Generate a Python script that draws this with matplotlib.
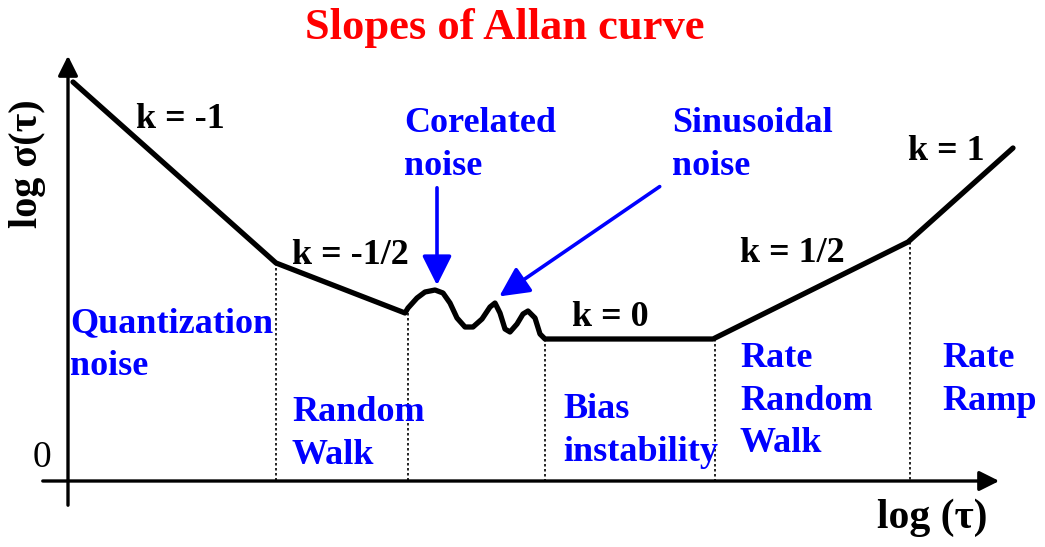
import matplotlib.pyplot as plt

plt.rcParams['font.family'] = ['Liberation Serif', 'DejaVu Serif']
plt.rcParams['font.weight'] = 'bold'

# Allan deviation sketch, in drawing units (x right, y down)
curve_x = [73, 276, 405, 408, 417, 425, 435, 443, 450, 457, 465, 473, 482, 490, 495,
           500, 505, 510, 517, 523, 528, 535, 540, 545, 713, 908, 1013]
curve_y = [82, 263, 313, 308, 298, 292, 290, 293, 303, 318, 327, 327, 319, 307, 303,
           313, 329, 332, 324, 314, 311, 318, 334, 339, 339, 242, 148]

# region borders: x position and top of the dotted line
border_x = [276, 408, 545, 715, 910]
border_top = [263, 313, 339, 339, 242]

slope_labels = ['k = -1', 'k = -1/2', 'k = 0', 'k = 1/2', 'k = 1']
slope_pos = [(180, 120), (350, 255), (610, 318), (792, 253), (946, 152)]

region_labels = ['Quantization\nnoise', 'Random\nWalk', 'Bias\ninstability',
                 'Rate\nRandom\nWalk', 'Rate\nRamp']
region_pos = [(70, 345), (292, 434), (563, 431), (740, 401), (942, 380)]

noise_labels = ['Corelated\nnoise', 'Sinusoidal\nnoise']
noise_pos = [(404, 145), (672, 145)]
arrow_from = [(437, 185), (662, 185)]
arrow_to = [(437, 288), (497, 298)]

fig = plt.figure(figsize=(10.45, 5.47), dpi=100)
ax = fig.add_axes([0, 0, 1, 1])
ax.set_xlim(0, 1045)
ax.set_ylim(547, 0)
ax.axis('off')

# axes with arrow heads
ax.annotate('', xy=(68, 53), xytext=(68, 508),
            arrowprops=dict(arrowstyle='-|>', lw=2.4, color='black', mutation_scale=30))
ax.annotate('', xy=(1002, 481), xytext=(40, 481),
            arrowprops=dict(arrowstyle='-|>', lw=2.4, color='black', mutation_scale=30))

for bx, bt in zip(border_x, border_top):
    ax.plot([bx, bx], [bt, 481], color='black', lw=1.2, ls=(0, (1.5, 1.5)))

ax.plot(curve_x, curve_y, color='black', lw=3.8, solid_joinstyle='round',
        solid_capstyle='round')

for (x0, y0), (x1, y1) in zip(arrow_from, arrow_to):
    ax.annotate('', xy=(x1, y1), xytext=(x0, y0),
                arrowprops=dict(arrowstyle='-|>', lw=2.6, color='blue', mutation_scale=45))

for txt, (x, y) in zip(slope_labels, slope_pos):
    ax.text(x, y, txt, fontsize=26, color='black', ha='center', va='center')

for txt, (x, y) in zip(region_labels + noise_labels, region_pos + noise_pos):
    ax.text(x, y, txt, fontsize=26, color='blue', ha='left', va='center', linespacing=1.38)

ax.text(505, 28, 'Slopes of Allan curve', fontsize=32, color='red', ha='center', va='center')
ax.text(28, 164, 'log σ(τ)', fontsize=29, color='black', rotation=90, ha='center', va='center')
ax.text(932, 518, 'log (τ)', fontsize=30, color='black', ha='center', va='center')
ax.text(42, 458, '0', fontsize=27, fontweight='normal', color='black', ha='center', va='center')

fig.savefig('out.png', dpi=100)
